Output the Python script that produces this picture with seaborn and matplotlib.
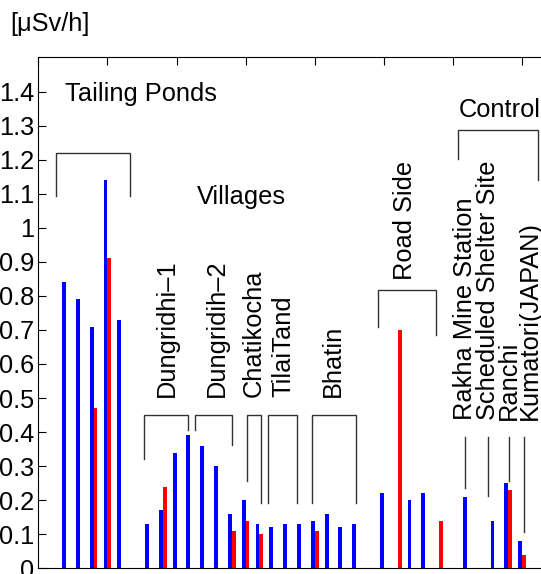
import matplotlib
matplotlib.use("Agg")
import matplotlib.pyplot as plt
import seaborn as sns
import pandas as pd
import numpy as np

# ---- data ----
positions = [2, 3, 4, 5, 6, 8, 9, 10, 11, 12, 13, 14, 15, 16, 17, 18, 19, 20, 21, 22, 23,
             25, 26, 27, 28, 29, 31, 33, 34, 35]
series1 = [0.84, 0.79, 0.71, 1.14, 0.73, 0.13, 0.17, 0.34, 0.39, 0.36, 0.30, 0.16, 0.20, 0.13,
           0.12, 0.13, 0.13, 0.14, 0.16, 0.12, 0.13, 0.22, 0.0, 0.20, 0.22, 0.0, 0.21, 0.14,
           0.25, 0.08]
series2 = [0.0, 0.0, 0.47, 0.91, 0.0, 0.0, 0.24, 0.0, 0.0, 0.0, 0.0, 0.11, 0.14, 0.10,
           0.0, 0.0, 0.0, 0.11, 0.0, 0.0, 0.0, 0.0, 0.70, 0.0, 0.0, 0.14, 0.0, 0.0,
           0.23, 0.04]
ytick_values = [0, 0.1, 0.2, 0.3, 0.4, 0.5, 0.6, 0.7, 0.8, 0.9, 1.0, 1.1, 1.2, 1.3, 1.4]
ytick_labels = ["0", "0.1", "0.2", "0.3", "0.4", "0.5", "0.6", "0.7", "0.8", "0.9",
                "1", "1.1", "1.2", "1.3", "1.4"]
unit_label = "[\u03bcSv/h]"

df = pd.DataFrame({
    "pos": positions * 2,
    "value": series1 + series2,
    "series": ["s1"] * len(positions) + ["s2"] * len(positions),
})
df = df[df["value"] > 0]

plt.rcParams["font.family"] = ["Liberation Sans", "DejaVu Sans"]
FS = 18.3

fig = plt.figure(figsize=(5.41, 5.74), dpi=100)
W, H = 541.0, 574.0
ax = fig.add_axes([38.3 / W, 5.7 / H, 539.0 / W, 510.8 / H])

sns.barplot(data=df, x="pos", y="value", hue="series", hue_order=["s1", "s2"],
            native_scale=True,
            palette={"s1": "#0000ff", "s2": "#ff0000"}, width=0.56, gap=0,
            errorbar=None, linewidth=0, edgecolor="none", saturation=1,
            legend=False, ax=ax)

ax.set_xlim(0, 39)
ax.set_ylim(0, 1.5)
ax.set_xlabel("")
ax.set_ylabel("")
ax.set_xticks(np.arange(0, 40, 5))
ax.set_xticklabels([])
ax.set_yticks(ytick_values)
ax.set_yticklabels(ytick_labels, fontsize=FS)
ax.tick_params(axis="both", direction="in", length=6, width=0.8, color="black",
               top=True, right=True, pad=3.0)
ax.tick_params(axis="x", bottom=False, labelbottom=False)
for s in ax.spines.values():
    s.set_linewidth(0.8)
    s.set_color("black")

LC = "#333333"
LW = 1.0

def bracket(xl, xr, ytop, ybl, ybr):
    ax.plot([xl, xl, xr, xr], [ybl, ytop, ytop, ybr], color=LC, lw=LW,
            solid_joinstyle="miter", clip_on=False)

bracket(1.28, 6.64, 1.221, 1.094, 1.094)       # Tailing Ponds
bracket(7.65, 10.85, 0.450, 0.320, 0.406)      # Dungridhi-1
bracket(11.34, 13.99, 0.450, 0.406, 0.362)     # Dungridih-2
bracket(15.08, 16.11, 0.450, 0.257, 0.193)     # Chatikocha
bracket(16.64, 18.74, 0.450, 0.193, 0.193)     # TilaiTand
bracket(19.83, 22.99, 0.450, 0.193, 0.193)     # Bhatin
bracket(24.60, 28.78, 0.816, 0.710, 0.685)     # Road Side
bracket(30.39, 36.18, 1.286, 1.202, 1.141)     # Control

for lx, yb in [(30.90, 0.235), (32.52, 0.213), (34.08, 0.257), (35.14, 0.108)]:
    ax.plot([lx, lx], [0.387, yb], color=LC, lw=LW, clip_on=False)

# horizontal labels
ax.text(1.93, 1.371, "Tailing Ponds", fontsize=FS, ha="left", va="baseline")
ax.text(11.46, 1.070, "Villages", fontsize=FS, ha="left", va="baseline")
ax.text(30.39, 1.325, "Control", fontsize=FS, ha="left", va="baseline", clip_on=False)

# rotated labels (x = baseline position, y = start)
rot_labels = [
    (9.84, 0.504, "Dungridhi\u20131"),
    (13.44, 0.504, "Dungridih\u20132"),
    (16.08, 0.504, "Chatikocha"),
    (18.21, 0.504, "TilaiTand"),
    (21.83, 0.504, "Bhatin"),
    (27.02, 0.848, "Road Side"),
    (31.36, 0.436, "Rakha Mine Station"),
    (33.05, 0.436, "Scheduled Shelter Site"),
    (34.57, 0.436, "Ranchi"),
    (36.06, 0.436, "Kumatori(JAPAN)"),
]
for x, y, t in rot_labels:
    ax.text(x, y, t, fontsize=FS, rotation=90, rotation_mode="anchor",
            ha="left", va="baseline")

fig.text(10.4 / W, (H - 30.7) / H, unit_label, fontsize=FS, ha="left", va="baseline")

fig.savefig("out.png", dpi=100)
